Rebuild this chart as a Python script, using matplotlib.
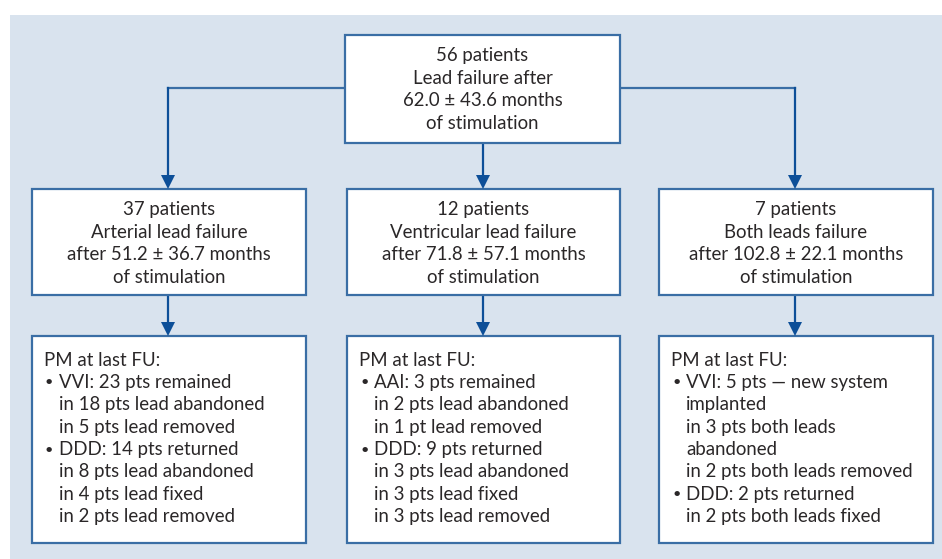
import matplotlib
matplotlib.use("Agg")
import matplotlib.pyplot as plt
from matplotlib.patches import Rectangle, Polygon

plt.rcParams["font.family"] = ["Lato", "DejaVu Sans"]

# --- flowchart content ---
TOP_TEXT = ["56 patients", "Lead failure after", "62.0 \u00b1 43.6 months", "of stimulation"]

MID_TEXTS = [
    ["37 patients", "Arterial lead failure", "after 51.2 \u00b1 36.7 months", "of stimulation"],
    ["12 patients", "Ventricular lead failure", "after 71.8 \u00b1 57.1 months", "of stimulation"],
    ["7 patients", "Both leads failure", "after 102.8 \u00b1 22.1 months", "of stimulation"],
]

# each entry: (bullet?, text); False = heading, True = bullet line, None = continuation
BOTTOM_TEXTS = [
    [(False, "PM at last FU:"), (True, "VVI: 23 pts remained"), (None, "in 18 pts lead abandoned"),
     (None, "in 5 pts lead removed"), (True, "DDD: 14 pts returned"), (None, "in 8 pts lead abandoned"),
     (None, "in 4 pts lead fixed"), (None, "in 2 pts lead removed")],
    [(False, "PM at last FU:"), (True, "AAI: 3 pts remained"), (None, "in 2 pts lead abandoned"),
     (None, "in 1 pt lead removed"), (True, "DDD: 9 pts returned"), (None, "in 3 pts lead abandoned"),
     (None, "in 3 pts lead fixed"), (None, "in 3 pts lead removed")],
    [(False, "PM at last FU:"), (True, "VVI: 5 pts \u2014 new system"), (None, "implanted"),
     (None, "in 3 pts both leads"), (None, "abandoned"), (None, "in 2 pts both leads removed"),
     (True, "DDD: 2 pts returned"), (None, "in 2 pts both leads fixed")],
]

W, H = 942, 559
BG = "#d9e3ee"
BORDER = "#3a6ea5"
ARROW = "#0d4f98"
TXT = "#2a2728"
FS = 13.4
LINE = 22.4

fig = plt.figure(figsize=(W / 100, H / 100), dpi=100)
ax = fig.add_axes([0, 0, 1, 1])
ax.set_xlim(0, W)
ax.set_ylim(H, 0)
ax.axis("off")

ax.add_patch(Rectangle((10, 15), W - 10, H - 15, facecolor=BG, edgecolor="none"))


def box(x0, y0, x1, y1):
    ax.add_patch(Rectangle((x0, y0), x1 - x0, y1 - y0, facecolor="white",
                           edgecolor=BORDER, linewidth=1.6, zorder=2))


def arrow(x, y0, y1):
    ax.plot([x, x], [y0, y1 - 12], color=ARROW, lw=1.6, zorder=1)
    ax.add_patch(Polygon([[x - 7, y1 - 14], [x + 7, y1 - 14], [x, y1]], closed=True,
                         facecolor=ARROW, edgecolor="none", zorder=3))


# top box
top = (345, 35, 620, 143)
box(*top)
for i, s in enumerate(TOP_TEXT):
    ax.text((top[0] + top[2]) / 2, 56 + i * LINE, s, ha="center", va="center",
            fontsize=FS, color=TXT, zorder=4)

cols = [(32, 306), (347, 620), (659, 933)]
centers = [168, 483, 795]

# connectors from top box
ax.plot([centers[0], top[0]], [88, 88], color=BORDER, lw=1.6, zorder=1)
ax.plot([top[2], centers[2]], [88, 88], color=BORDER, lw=1.6, zorder=1)
arrow(centers[0], 88, 189)
arrow(centers[2], 88, 189)
arrow(centers[1], 143, 189)

for (x0, x1), cx, mid, bot in zip(cols, centers, MID_TEXTS, BOTTOM_TEXTS):
    box(x0, 189, x1, 295)
    for i, s in enumerate(mid):
        ax.text((x0 + x1) / 2, 210 + i * LINE, s, ha="center", va="center",
                fontsize=FS, color=TXT, zorder=4)
    arrow(cx, 295, 336)
    box(x0, 336, x1, 543)
    for i, (bullet, s) in enumerate(bot):
        y = 360 + i * LINE
        if bullet is False:
            ax.text(x0 + 12, y, s, ha="left", va="center", fontsize=FS, color=TXT, zorder=4)
        else:
            if bullet:
                ax.text(x0 + 13, y, "\u2022", ha="left", va="center", fontsize=FS - 3,
                        color=TXT, zorder=4)
            ax.text(x0 + 27, y, s, ha="left", va="center", fontsize=FS, color=TXT, zorder=4)

fig.savefig("out.png", dpi=100, facecolor="white")
